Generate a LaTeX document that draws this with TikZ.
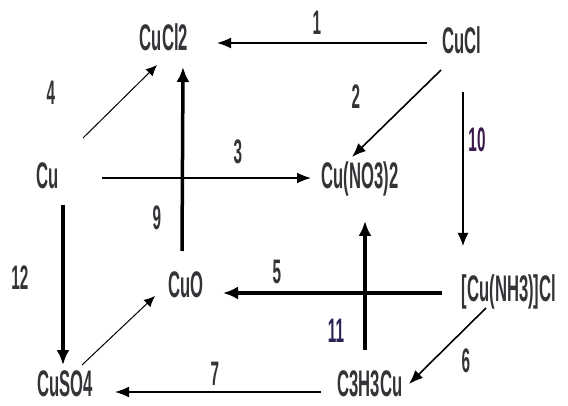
\documentclass[tikz,border=0pt]{standalone}
\usepackage{fontspec}
\setmainfont[FakeStretch=0.5]{Liberation Sans}
\newfontfamily\condbold[FakeStretch=0.45]{Liberation Sans Bold}
\usetikzlibrary{arrows.meta}
\definecolor{txt}{RGB}{50,52,55}
\definecolor{purp}{RGB}{60,25,75}
\definecolor{navy}{RGB}{40,35,85}
\tikzset{
  chem/.style={inner sep=0pt, text=txt, font=\condbold\fontsize{37}{37}\selectfont},
  num/.style={inner sep=0pt, text=txt, font=\condbold\fontsize{34}{34}\selectfont},
  thin/.style={line width=1pt, -{Latex[length=11pt,width=10pt]}},
  med/.style={line width=1.6pt, -{Latex[length=14pt,width=11pt]}},
  heavy/.style={line width=3.5pt, -{Latex[length=15pt,width=13pt]}},
}
\begin{document}
\begin{tikzpicture}[x=1pt,y=-1pt]
\useasboundingbox (0,0) rectangle (568,406);
\fill[white] (0,0) rectangle (568,406);
% nodes
\node[chem] (CuCl2) at (164,37) {CuCl2};
\node[chem] (CuCl) at (462,40) {CuCl};
\node[chem] (Cu) at (48,176) {Cu};
\node[chem] (CuNO) at (360,179) {Cu(NO3)2};
\node[chem] (CuO) at (186,285) {CuO};
\node[chem] (NH) at (509,292) {[Cu(NH3)]Cl};
\node[chem] (CuSO) at (65,384) {CuSO4};
\node[chem] (CHC) at (370,384) {C3H3Cu};
% labels
\node[num] (l1) at (317,23) {1};
\node[num] (l2) at (356,97) {2};
\node[num] (l3) at (238,152) {3};
\node[num] (l4) at (51,93) {4};
\node[num] (l5) at (277,272) {5};
\node[num] (l6) at (466,361) {6};
\node[num] (l7) at (215,374) {7};
\node[num] (l9) at (157,218) {9};
\node[num,text=purp] (l10) at (477,140) {10};
\node[num,text=navy] (l11) at (336,331) {11};
\node[num] (l12) at (20,278) {12};
% connectors
\draw[med] ([shift={(-35,3)}]CuCl.center) -- ([shift={(53,6)}]CuCl2.center);
\draw[med] ([shift={(-21,30)}]CuCl.center) -- ([shift={(-8,-22)}]CuNO.center);
\draw[med] ([shift={(54,2)}]Cu.center) -- ([shift={(-49,-1)}]CuNO.center);
\draw[thin] ([shift={(35,-38)}]Cu.center) -- ([shift={(-7,28)}]CuCl2.center);
\draw[heavy] ([shift={(-4,-34)}]CuO.center) -- ([shift={(19,30)}]CuCl2.center);
\draw[line width=1.2pt, -{Latex[length=13pt,width=11pt]}] ([shift={(1,52)}]CuCl.center) -- ([shift={(-46,-46)}]NH.center);
\draw[heavy] ([shift={(-5,-34)}]CHC.center) -- ([shift={(5,42)}]CuNO.center);
\draw[heavy] ([shift={(-67,1)}]NH.center) -- ([shift={(37,8)}]CuO.center);
\draw[heavy] ([shift={(15,29)}]Cu.center) -- ([shift={(-2,-19)}]CuSO.center);
\draw[thin] ([shift={(17,-19)}]CuSO.center) -- ([shift={(-31,11)}]CuO.center);
\draw[med] ([shift={(-23,16)}]NH.center) -- ([shift={(39,0)}]CHC.center);
\draw[med] ([shift={(-49,8)}]CHC.center) -- ([shift={(50,8)}]CuSO.center);
\end{tikzpicture}
\end{document}
